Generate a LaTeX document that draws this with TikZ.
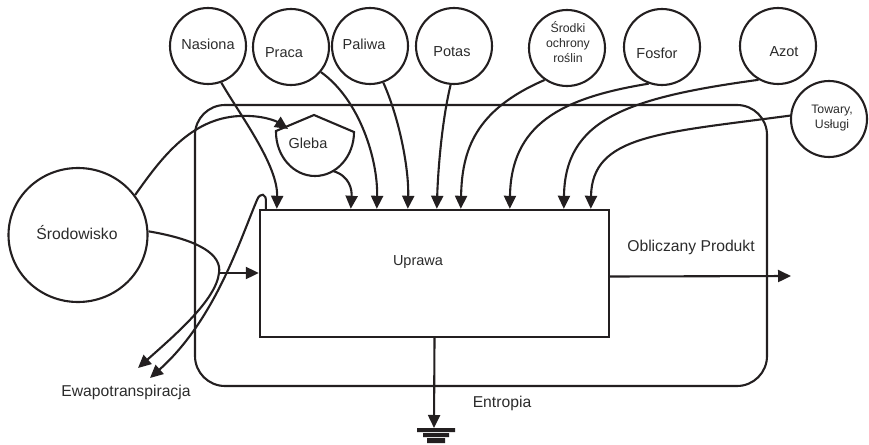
\documentclass[tikz,border=0pt]{standalone}
\usepackage{fontspec}
\setmainfont{Liberation Sans}
\usetikzlibrary{arrows.meta,shapes.geometric,calc}
\definecolor{ink}{HTML}{231F20}
\definecolor{txt}{HTML}{2B2B2B}
\tikzset{
  ln/.style={draw=ink,line width=2.1pt},
  arr/.style={ln,-{Triangle[length=13pt,width=12pt]}},
  src/.style={circle,draw=ink,line width=2.1pt,minimum size=76pt,inner sep=0pt},
  lbl/.style={text=txt,font=\fontsize{14.5}{16}\selectfont,inner sep=0pt},
  lbls/.style={text=txt,font=\fontsize{12.3}{15}\selectfont,inner sep=0pt,align=center},
  lblb/.style={text=txt,font=\fontsize{15.7}{18}\selectfont,inner sep=0pt},
}
\begin{document}
\begin{tikzpicture}[x=1pt,y=-1pt]
\useasboundingbox (0,0) rectangle (869,444);
% system boundary
\draw[ln] (195,105) [rounded corners=30pt] -- (767,105) -- (767,386) -- (195,386) -- cycle;
% main process
\node[draw=ink,line width=2.4pt,minimum width=349pt,minimum height=127pt,inner sep=0pt] (up) at (434.5,273.5) {};
\node[lbl] (upt) at (418,262) {Uprawa};
% sources
\node[src] (nas) at (208,46) {};
\node[src] (pra) at (291,47) {};
\node[src] (pal) at (370,46) {};
\node[src] (pot) at (454,46) {};
\node[src] (sro) at (567,48) {};
\node[src] (fos) at (662,47) {};
\node[src] (azo) at (778,46) {};
\node[src] (tow) at (829,119) {};
\node[ellipse,draw=ink,line width=2.1pt,minimum width=139pt,minimum height=134pt,inner sep=0pt] (env) at (78,235) {};
\node[lbl] at (208,44) {Nasiona};
\node[lbl] at (284,53) {Praca};
\node[lbl] at (364,44) {Paliwa};
\node[lbl] at (452,52) {Potas};
\node[lbls] at (568,42) {Środki\\ochrony\\roślin};
\node[lbl] at (657,53) {Fosfor};
\node[lbl] at (784,52) {Azot};
\node[lbls] at (832,118) {Towary,\\Usługi};
\node[lblb] at (77,233) {Środowisko};
% Gleba
\draw[ln] (276,131) -- (314,115) -- (354,132) arc[start angle=0,end angle=180,x radius=39,y radius=44] -- cycle;
\node[lbl] (glt) at (308,143) {Gleba};
% targets on top of the process
\coordinate (t1) at ($(up.north west)+(18,0)$);
\coordinate (t2) at ($(up.north west)+(92,0)$);
\coordinate (t3) at ($(up.north west)+(118,0)$);
\coordinate (t4) at ($(up.north west)+(149,0)$);
\coordinate (t5) at ($(up.north west)+(178,0)$);
\coordinate (t6) at ($(up.north west)+(202,0)$);
\coordinate (t7) at ($(up.north west)+(251,0)$);
\coordinate (t8) at ($(up.north west)+(305,0)$);
\coordinate (t9) at ($(up.north west)+(332,0)$);
\draw[arr] (nas.-70) .. controls (240,115) and (278,165) .. (t1);
\draw[arr] (333,171) .. controls (350,176) and (352,190) .. (t2);
\draw[arr] (pra.-40) .. controls (360,100) and (378,160) .. (t3);
\draw[arr] (pal.-70) .. controls (400,120) and (409,170) .. (t4);
\draw[arr] (pot.-95) .. controls (442,120) and (438,170) .. (t5);
\draw[arr] (sro.-125) .. controls (475,110) and (462,150) .. (t6);
\draw[arr] (fos.-110) .. controls (560,98) and (511,125) .. (t7);
\draw[arr] (azo.-120) .. controls (625,98) and (565,120) .. (t8);
\draw[arr] (tow.175) .. controls (660,133) and (592,135) .. (t9);
% Srodowisko to Gleba
\draw[arr] (env.35) .. controls (160,160) and (190,118) .. (240,116) .. controls (262,115) and (276,121) .. (288,129);
% Srodowisko to process and evapotranspiration
\coordinate (br) at (219,273);
\coordinate (ew1) at (138,368);
\coordinate (ew2) at (150,378);
\draw[arr] (env.3) .. controls (200,240) and (222,255) .. (br) .. controls (216,300) and (175,335) .. (ew1);
\draw[arr] (br) -- (br -| up.west);
\draw[arr] ($(up.north west)+(7,1)$) -- ++(0,-7) .. controls (267,193) and (260,192) .. (257,200) .. controls (240,240) and (215,320) .. (ew2);
\node[lblb] (ewt) at (126,392) {Ewapotranspiracja};
% product
\coordinate (prod) at (791,276);
\draw[arr] ($(up.east)+(0,3)$) -- (prod);
\node[lblb] (pt) at (691,247) {Obliczany Produkt};
% entropy
\coordinate (gnd) at (434,428);
\draw[arr] (up.south) -- (gnd);
\fill[ink] (417,428) rectangle (455,432) (423,433) rectangle (449,437) (427,438) rectangle (445,443);
\node[lblb] (ent) at (502,403) {Entropia};
\end{tikzpicture}
\end{document}
